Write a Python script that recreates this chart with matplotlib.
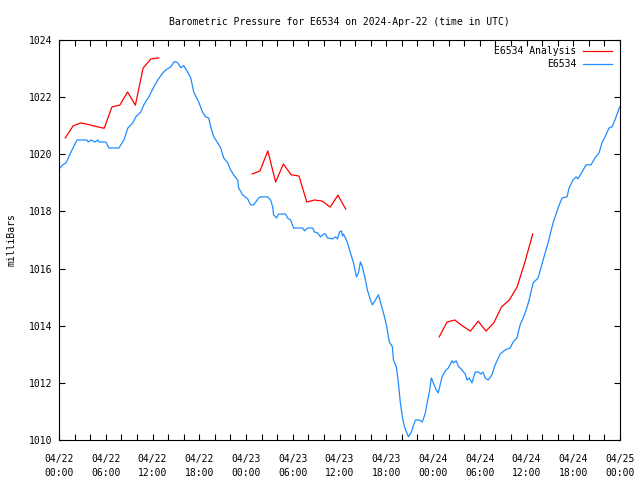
import matplotlib
matplotlib.use("Agg")
import matplotlib.pyplot as plt
from matplotlib.ticker import FixedLocator
import numpy as np

plt.rcParams['font.family'] = ['DejaVu Sans Mono']
plt.rcParams['font.size'] = 7

# Hours since 2024-04-22 00:00 UTC and pressure (mb)
obs_hours = [0.05, 0.47, 0.90, 1.54, 2.31, 3.59, 3.75, 4.10, 4.61, 5.00, 5.12, 6.02, 6.41, 7.69,
             8.33, 8.84, 9.48, 9.86, 10.50, 10.89, 11.53, 12.17, 12.68, 13.32, 13.71, 14.35, 14.73,
             14.99, 15.24, 15.63, 16.01, 16.49, 16.91, 17.29, 17.93, 18.41, 18.83, 19.22, 19.47,
             19.86, 20.37, 20.75, 21.14, 21.65, 22.03, 22.42, 22.93, 23.06, 23.57, 24.21, 24.60,
             24.98, 25.62, 25.88, 26.77, 27.16, 27.42, 27.54, 27.93, 28.18, 29.08, 29.34, 29.72,
             30.11, 31.26, 31.51, 31.90, 32.54, 32.80, 33.18, 33.56, 33.95, 34.21, 34.46, 35.10,
             35.49, 35.74, 36.00, 36.25, 36.38, 36.51, 36.77, 37.02, 37.41, 37.79, 38.18, 38.43,
             38.69, 38.94, 39.33, 39.58, 39.97, 40.23, 40.61, 40.99, 41.25, 41.64, 42.02, 42.40,
             42.79, 42.92, 43.30, 43.56, 43.81, 44.07, 44.33, 44.71, 44.84, 45.22, 45.73, 46.25,
             46.63, 47.02, 47.27, 47.53, 47.79, 48.04, 48.43, 48.68, 49.16, 49.58, 49.96, 50.44,
             50.60, 50.99, 51.24, 51.72, 52.14, 52.36, 52.65, 53.00, 53.42, 53.81, 54.15, 54.41,
             54.70, 55.09, 55.56, 55.98, 56.62, 57.26, 57.90, 58.29, 58.76, 59.18, 59.57, 60.04,
             60.34, 60.85, 61.49, 62.13, 62.77, 63.41, 64.05, 64.56, 65.20, 65.46, 65.97, 66.36,
             66.61, 67.13, 67.64, 68.28, 68.79, 69.31, 69.69, 70.08, 70.59, 70.97, 71.35, 71.95]
obs_mb = [1019.50, 1019.63, 1019.70, 1020.08, 1020.50, 1020.50, 1020.43, 1020.50, 1020.43, 1020.50,
          1020.43, 1020.43, 1020.22, 1020.22, 1020.50, 1020.92, 1021.10, 1021.31, 1021.48, 1021.73,
          1022.01, 1022.36, 1022.60, 1022.85, 1022.95, 1023.06, 1023.23, 1023.24, 1023.20, 1023.03,
          1023.10, 1022.89, 1022.67, 1022.18, 1021.83, 1021.48, 1021.31, 1021.27, 1020.96, 1020.61,
          1020.40, 1020.22, 1019.87, 1019.70, 1019.45, 1019.28, 1019.10, 1018.82, 1018.58, 1018.44,
          1018.23, 1018.23, 1018.47, 1018.51, 1018.51, 1018.40, 1018.16, 1017.88, 1017.77, 1017.91,
          1017.91, 1017.77, 1017.70, 1017.42, 1017.42, 1017.32, 1017.42, 1017.42, 1017.28, 1017.25,
          1017.11, 1017.21, 1017.21, 1017.07, 1017.04, 1017.11, 1017.04, 1017.28, 1017.32, 1017.14,
          1017.21, 1017.07, 1016.90, 1016.55, 1016.20, 1015.71, 1015.85, 1016.23, 1016.06, 1015.60,
          1015.25, 1014.90, 1014.73, 1014.90, 1015.08, 1014.83, 1014.45, 1014.03, 1013.43, 1013.26,
          1012.80, 1012.56, 1012.00, 1011.30, 1010.81, 1010.46, 1010.21, 1010.11, 1010.28, 1010.70,
          1010.70, 1010.63, 1010.95, 1011.33, 1011.68, 1012.17, 1012.00, 1011.75, 1011.65, 1012.21,
          1012.42, 1012.52, 1012.77, 1012.70, 1012.77, 1012.59, 1012.45, 1012.31, 1012.10, 1012.17,
          1012.00, 1012.38, 1012.38, 1012.31, 1012.38, 1012.17, 1012.10, 1012.28, 1012.63, 1013.01,
          1013.15, 1013.22, 1013.43, 1013.57, 1014.03, 1014.27, 1014.62, 1014.90, 1015.50, 1015.67,
          1016.30, 1016.90, 1017.60, 1018.12, 1018.47, 1018.51, 1018.82, 1019.10, 1019.21, 1019.14,
          1019.38, 1019.63, 1019.63, 1019.87, 1020.05, 1020.40, 1020.61, 1020.92, 1020.96, 1021.20,
          1021.65]

ana1_hours = [0.8 + k for k in range(13)]
ana1_mb = [1020.57, 1020.99, 1021.10, 1021.04, 1020.97, 1020.91, 1021.66, 1021.72, 1022.18,
           1021.72, 1023.02, 1023.34, 1023.37]
ana2_hours = [24.8 + k for k in range(13)]
ana2_mb = [1019.31, 1019.42, 1020.12, 1019.03, 1019.66, 1019.28, 1019.24, 1018.33, 1018.40,
           1018.36, 1018.15, 1018.57, 1018.08]
ana3_hours = [48.8 + k for k in range(13)]
ana3_mb = [1013.61, 1014.13, 1014.20, 1013.99, 1013.81, 1014.16, 1013.81, 1014.10, 1014.66,
           1014.90, 1015.36, 1016.23, 1017.21]

tick_labels = ["04/22\n00:00", "04/22\n06:00", "04/22\n12:00", "04/22\n18:00",
               "04/23\n00:00", "04/23\n06:00", "04/23\n12:00", "04/23\n18:00",
               "04/24\n00:00", "04/24\n06:00", "04/24\n12:00", "04/24\n18:00",
               "04/25\n00:00"]

fig = plt.figure(figsize=(6.4, 4.8), dpi=100)
ax = fig.add_axes([59/640, 1 - 440/480, (620 - 59)/640, 400/480])

red = '#ff0000'
blue = '#1e8cff'
ax.plot(ana1_hours, ana1_mb, color=red, lw=0.9, label='E6534 Analysis')
ax.plot(ana2_hours, ana2_mb, color=red, lw=0.9)
ax.plot(ana3_hours, ana3_mb, color=red, lw=0.9)
ax.plot(obs_hours, obs_mb, color=blue, lw=0.9, label='E6534')

ax.set_xlim(0, 72)
ax.set_ylim(1010, 1024)
ax.set_xticks(np.arange(0, 73, 6))
ax.set_xticklabels(tick_labels, linespacing=1.5)
ax.xaxis.set_minor_locator(FixedLocator([h for h in range(0, 73, 2) if h % 6 != 0]))
ax.set_yticks(np.arange(1010, 1025, 2))
ax.tick_params(axis='both', which='both', direction='in', top=True, right=True,
               length=4, width=0.8, labelsize=7)
ax.tick_params(axis='x', which='major', pad=10)
ax.tick_params(axis='y', which='major', pad=5)
for s in ax.spines.values():
    s.set_linewidth(0.8)

ax.set_title('Barometric Pressure for E6534 on 2024-Apr-22 (time in UTC)', fontsize=7, pad=11)
ax.set_ylabel('milliBars', fontsize=7, labelpad=9)

ax.legend(loc='upper right', bbox_to_anchor=(612/640, 1 - 46/480),
          bbox_transform=fig.transFigure, frameon=False, markerfirst=False,
          handlelength=3.0, handletextpad=0.7, labelspacing=0.3,
          borderaxespad=0, borderpad=0, fontsize=7)

fig.savefig('out.png', dpi=100)
